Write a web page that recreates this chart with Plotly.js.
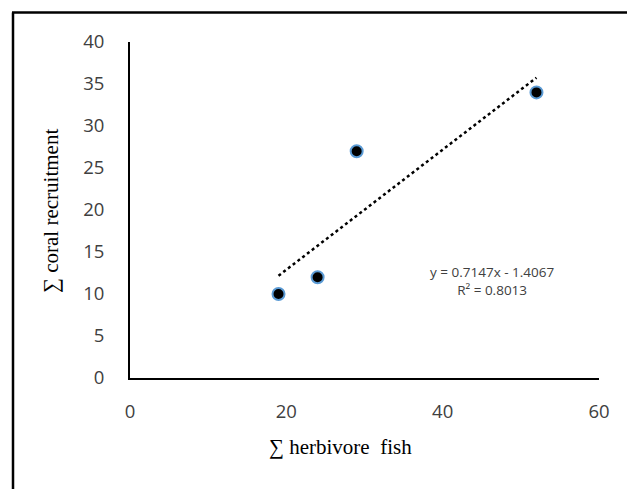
<!DOCTYPE html>
<html>
<head>
<meta charset="utf-8">
<script src="https://cdn.plot.ly/plotly-3.0.1.min.js"></script>
<style>
html,body{margin:0;padding:0;background:#fff;}
#chart{width:627px;height:489px;}
</style>
</head>
<body>
<div id="chart"></div>
<script>
// Data
const herbivoreFish = [19, 24, 29, 52];
const coralRecruitment = [10, 12, 27, 34];
const trendSlope = 0.7147;
const trendIntercept = -1.4067;
const trendR2 = 0.8013;
const trendX = [19, 52];
const trendY = trendX.map(x => trendSlope * x + trendIntercept);
const xTicks = [0, 20, 40, 60];
const yTicks = [0, 5, 10, 15, 20, 25, 30, 35, 40];
const xTitle = "∑ herbivore  fish";
const yTitle = "∑ coral recruitment";

const tickFont = {family: "Open Sans, Liberation Sans, sans-serif", size: 18.5, color: "#404040"};
const titleFont = {family: "Liberation Serif, Times New Roman, serif", size: 21, color: "#000"};

const traces = [
  {
    x: trendX, y: trendY, mode: "lines", type: "scatter",
    line: {color: "#000", width: 2.5, dash: "dot"},
    hoverinfo: "skip", showlegend: false
  },
  {
    x: herbivoreFish, y: coralRecruitment, mode: "markers", type: "scatter",
    marker: {color: "#000", size: 12, line: {color: "#5B9BD5", width: 2}},
    showlegend: false
  }
];

const layout = {
  width: 627, height: 489,
  margin: {l: 130, r: 28, t: 42, b: 111},
  paper_bgcolor: "#fff", plot_bgcolor: "#fff",
  showlegend: false,
  xaxis: {
    range: [0, 60], tickvals: xTicks, ticktext: xTicks.map(String),
    showgrid: false, zeroline: false, showline: true, linecolor: "#000", linewidth: 2,
    ticks: "", tickfont: tickFont, ticklabelstandoff: 16
  },
  yaxis: {
    range: [0, 40], tickvals: yTicks, ticktext: yTicks.map(String),
    showgrid: false, zeroline: false, showline: true, linecolor: "#000", linewidth: 2,
    ticks: "", tickfont: tickFont, ticklabelstandoff: 20
  },
  annotations: [
    {
      x: 46.3, y: 11.6, xref: "x", yref: "y", showarrow: false,
      text: "y = " + trendSlope.toFixed(4) + "x - " + Math.abs(trendIntercept).toFixed(4) +
            "<br>R² = " + trendR2.toFixed(4),
      align: "center",
      font: {family: "Open Sans, Liberation Sans, sans-serif", size: 13.5, color: "#404040"}
    },
    {
      x: (340 - 130) / 469, y: -69 / 336, xref: "paper", yref: "paper", showarrow: false,
      text: xTitle, font: titleFont, xanchor: "center", yanchor: "middle"
    },
    {
      x: (51 - 130) / 469, y: 0.497, xref: "paper", yref: "paper", showarrow: false,
      text: yTitle, font: titleFont, textangle: -90, xanchor: "center", yanchor: "middle"
    }
  ],
  shapes: [
    {type: "line", xref: "paper", yref: "paper",
     x0: -118/469, x1: 1.2, y0: (489-111-12.5)/336 , y1: (489-111-12.5)/336,
     line: {color: "#000", width: 2.5}},
    {type: "line", xref: "paper", yref: "paper",
     x0: -117/469, x1: -117/469, y0: (489-111-12.5)/336, y1: -0.5,
     line: {color: "#000", width: 2.5}}
  ]
};

Plotly.newPlot("chart", traces, layout, {displayModeBar: false, staticPlot: true});
</script>
</body>
</html>
